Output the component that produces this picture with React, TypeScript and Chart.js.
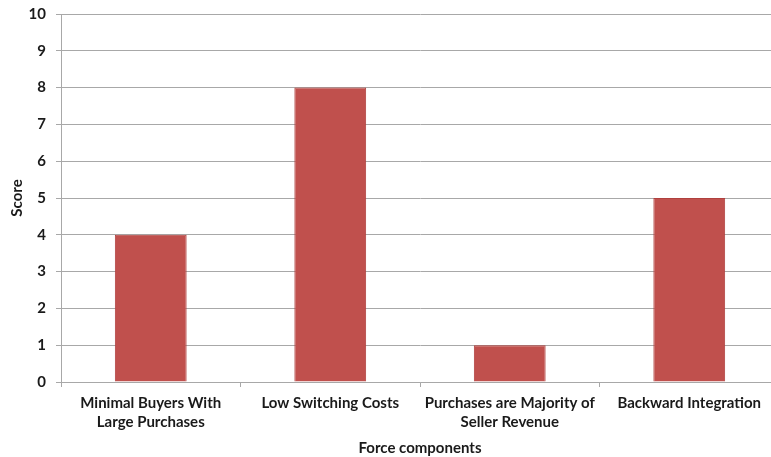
import React, { useEffect, useRef } from "react";
import { Chart, registerables } from "chart.js";

Chart.register(...registerables);

const categories: string[][] = [
  ["Minimal Buyers With", "Large Purchases"],
  ["Low Switching Costs"],
  ["Purchases are Majority of", "Seller Revenue"],
  ["Backward Integration"],
];
const scores: number[] = [4, 8, 1, 5];
const yTicks: number[] = [0, 1, 2, 3, 4, 5, 6, 7, 8, 9, 10];

const FONT = "Lato, 'Open Sans', sans-serif";
const TEXT = "#1a1a1a";
const GRID = "#a8a8a8";

export default function App() {
  const ref = useRef<HTMLCanvasElement | null>(null);
  useEffect(() => {
    if (!ref.current) return;
    const chart = new Chart(ref.current, {
      type: "bar",
      data: {
        labels: categories,
        datasets: [
          {
            label: "Score",
            data: scores,
            backgroundColor: "#C0504D",
            borderColor: "#B0403E",
            borderWidth: 1,
            barPercentage: 0.4,
            categoryPercentage: 1,
          },
        ],
      },
      options: {
        animation: false,
        responsive: false,
        maintainAspectRatio: false,
        layout: { padding: { top: 14, left: 0, right: 0, bottom: 0 } },
        plugins: { legend: { display: false }, tooltip: { enabled: false } },
        scales: {
          x: {
            offset: true,
            grid: {
              offset: true,
              drawOnChartArea: false,
              drawTicks: true,
              tickLength: 5,
              color: GRID,
            },
            border: { color: GRID, width: 1 },
            ticks: {
              color: TEXT,
              font: { family: FONT, size: 15, weight: "bold", lineHeight: 1.27 },
              padding: 7,
              maxRotation: 0,
              autoSkip: false,
            },
            title: {
              display: true,
              text: "Force components",
              color: TEXT,
              font: { family: FONT, size: 15, weight: "bold" },
              padding: { top: 0, bottom: 0 },
            },
            afterFit: (s: any) => {
              s.height = 75;
              s.paddingLeft = 0;
              s.paddingRight = 0;
            },
          },
          y: {
            min: 0,
            max: 10,
            afterBuildTicks: (s: any) => {
              s.ticks = yTicks.map((v) => ({ value: v }));
            },
            grid: { color: GRID, tickLength: 5 },
            border: { color: GRID, width: 1 },
            ticks: {
              color: TEXT,
              font: { family: FONT, size: 15, weight: "bold" },
              padding: 10,
            },
            title: {
              display: true,
              text: "Score",
              color: TEXT,
              font: { family: FONT, size: 15, weight: "bold" },
              padding: { top: 8, bottom: 0 },
            },
            afterFit: (s: any) => {
              s.width = 61;
              s.paddingTop = 0;
              s.paddingBottom = 0;
            },
          },
        },
      },
    });
    return () => chart.destroy();
  }, []);
  return (
    <div
      style={{
        position: "fixed",
        left: 0,
        top: 0,
        width: 771,
        height: 457,
        overflow: "hidden",
        background: "#fff",
      }}
    >
      <canvas ref={ref} width={779} height={457} style={{ display: "block" }} />
    </div>
  );
}
